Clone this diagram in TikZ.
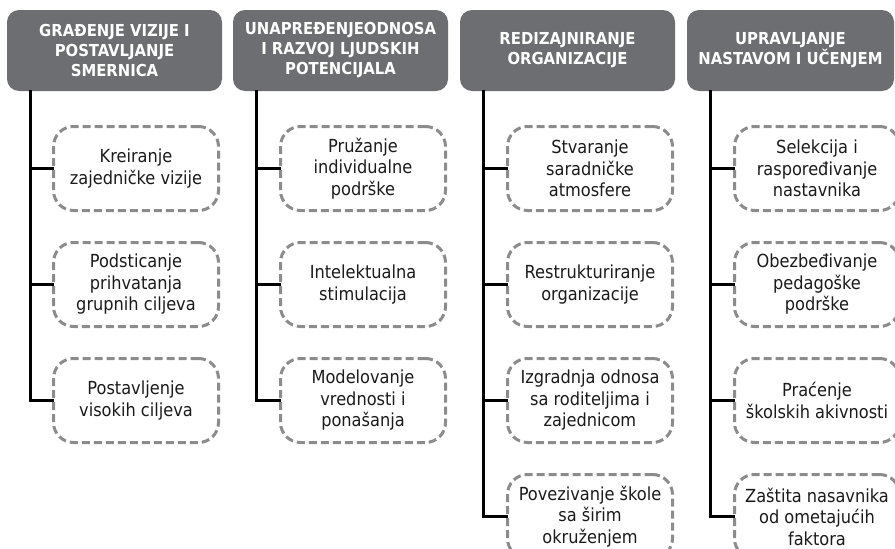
\documentclass[tikz,border=0pt]{standalone}
\usepackage{fontspec}
\setmainfont{DejaVu Sans Condensed}
\usetikzlibrary{positioning}

\definecolor{headgray}{HTML}{6D6E71}
\definecolor{dashgray}{HTML}{8C8C8C}
\definecolor{textblack}{HTML}{1A1A1A}

\tikzset{
    head/.style={fill=headgray, rounded corners=12pt, minimum width=215pt, minimum height=81pt, inner sep=0pt,
        text=white, align=center, font=\bfseries\fontsize{16.5}{20}\selectfont},
    item/.style={draw=dashgray, line width=3pt, dash pattern=on 8pt off 4pt, rounded corners=20pt,
        minimum width=165pt, minimum height=84pt, inner sep=0pt, text=textblack, align=center,
        font=\fontsize{18}{21.5}\selectfont},
    trunk/.style={line width=3pt, line cap=rect},
    node distance=29pt
}

\begin{document}
\begin{tikzpicture}[x=1pt,y=-1pt]
        \useasboundingbox (0,0) rectangle (895,549);
        % headers
        \node[head] (h1) at (114.5,50.5) {GRAĐENJE VIZIJE I\\POSTAVLJANJE\\SMERNICA};
        \node[head] (h2) at (340.5,50.5) {UNAPREĐENJEODNOSA\\I RAZVOJ LJUDSKIH\\POTENCIJALA};
        \node[head] (h3) at (567.5,50.5) {REDIZAJNIRANJE\\ORGANIZACIJE};
        \node[head,minimum width=207pt] (h4) at (790.5,50.5) {UPRAVLJANJE\\NASTAVOM I UČENJEM};
        \coordinate (t1) at ([xshift=24pt]h1.south west);
        \coordinate (t2) at ([xshift=24pt]h2.south west);
        \coordinate (t3) at ([xshift=24pt]h3.south west);
        \coordinate (t4) at ([xshift=24pt]h4.south west);
        % column 1
        \node[item] (b11) at (136,168.5) {Kreiranje\\zajedničke vizije};
        \node[item,below=of b11] (b12) {Podsticanje\\prihvatanja\\grupnih ciljeva};
        \node[item,below=of b12] (b13) {Postavljenje\\visokih ciljeva};
        % column 2
        \node[item] (b21) at (363,168.5) {Pružanje\\individualne\\podrške};
        \node[item,below=of b21] (b22) {Intelektualna\\stimulacija};
        \node[item,below=of b22] (b23) {Modelovanje\\vrednosti i\\ponašanja};
        % column 3
        \node[item] (b31) at (590,168.5) {Stvaranje\\saradničke\\atmosfere};
        \node[item,below=of b31] (b32) {Restrukturiranje\\organizacije};
        \node[item,below=of b32] (b33) {Izgradnja odnosa\\sa roditeljima i\\zajednicom};
        \node[item,below=of b33] (b34) {Povezivanje škole\\sa širim\\okruženjem};
        % column 4
        \node[item] (b41) at (817,168.5) {Selekcija i\\raspoređivanje\\nastavnika};
        \node[item,below=of b41] (b42) {Obezbeđivanje\\pedagoške\\podrške};
        \node[item,below=of b42] (b43) {Praćenje\\školskih akivnosti};
        \node[item,below=of b43] (b44) {Zaštita nasavnika\\od ometajućih\\faktora};
        % trunks and branches
        \draw[trunk] (t1) |- (b13.west);
        \draw[trunk] (b11.west) -- (b11.west -| t1);
        \draw[trunk] (b12.west) -- (b12.west -| t1);
        \draw[trunk] (t2) |- (b23.west);
        \draw[trunk] (b21.west) -- (b21.west -| t2);
        \draw[trunk] (b22.west) -- (b22.west -| t2);
        \draw[trunk] (t3) |- (b34.west);
        \draw[trunk] (b31.west) -- (b31.west -| t3);
        \draw[trunk] (b32.west) -- (b32.west -| t3);
        \draw[trunk] (b33.west) -- (b33.west -| t3);
        \draw[trunk] (t4) |- (b44.west);
        \draw[trunk] (b41.west) -- (b41.west -| t4);
        \draw[trunk] (b42.west) -- (b42.west -| t4);
        \draw[trunk] (b43.west) -- (b43.west -| t4);
    \end{tikzpicture}
\end{document}
